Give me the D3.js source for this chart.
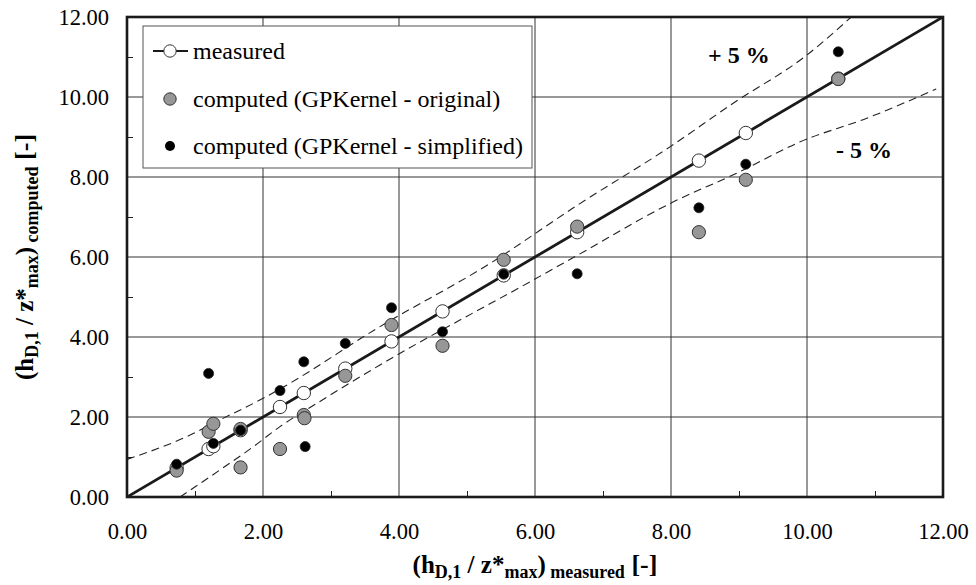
<!DOCTYPE html>
<html><head><meta charset="utf-8">
<script src="https://cdn.jsdelivr.net/npm/d3@7"></script>
<style>body{margin:0;background:#fff}svg{display:block}</style>
</head><body><svg id="c" width="976" height="585"></svg>
<script>
// ---- data ----
const xTicks = [0, 2, 4, 6, 8, 10, 12];
const yTicks = [0, 2, 4, 6, 8, 10, 12];
const minorTicks = [1, 3, 5, 7, 9, 11];
const measuredX = [0.73, 1.20, 1.27, 1.67, 2.25, 2.60, 3.21, 3.89, 4.64, 5.54, 6.62, 8.41, 9.10, 10.46];
const originalX = [0.73, 1.20, 1.27, 1.67, 1.67, 2.25, 2.60, 2.61, 3.21, 3.89, 4.64, 5.54, 6.62, 8.41, 9.10, 10.46];
const originalY = [0.66, 1.63, 1.83, 1.70, 0.74, 1.20, 2.05, 1.97, 3.03, 4.30, 3.78, 5.93, 6.76, 6.62, 7.93, 10.45];
const simplifiedX = [0.73, 1.20, 1.27, 1.67, 2.25, 2.60, 2.62, 3.21, 3.89, 4.64, 5.54, 6.62, 8.41, 9.10, 10.46];
const simplifiedY = [0.82, 3.09, 1.34, 1.67, 2.66, 3.38, 1.26, 3.84, 4.73, 4.13, 5.57, 5.58, 7.23, 8.32, 11.13];
const upperBandX = [0, 0.88, 1.37, 1.96, 2.25, 3.72, 5.34, 6.61, 7.99, 8.92, 10.0, 10.65];
const upperBandY = [0.94, 1.51, 1.93, 2.43, 2.70, 4.26, 5.84, 7.28, 8.76, 9.85, 11.05, 12.0];
const lowerBandX = [0.78, 1.37, 1.86, 2.25, 2.79, 3.72, 5.98, 6.61, 7.99, 9.01, 9.90, 10.88, 11.90];
const lowerBandY = [0.0, 0.68, 1.26, 1.76, 2.34, 3.30, 5.43, 6.03, 7.34, 8.13, 8.88, 9.47, 10.20];
const legendLabels = ["measured", "computed (GPKernel - original)", "computed (GPKernel - simplified)"];

const SERIF = "'Liberation Serif', 'Times New Roman', Tinos, 'DejaVu Serif', serif";

// ---- layout ----
const W = 976, H = 585;
const m = {left: 127, right: 33, top: 17, bottom: 88};
const pw = W - m.left - m.right, ph = H - m.top - m.bottom;
const svg = d3.select("#c");
const g = svg.append("g").attr("transform", `translate(${m.left},${m.top})`);
const x = d3.scaleLinear().domain([0, 12]).range([0, pw]);
const y = d3.scaleLinear().domain([0, 12]).range([ph, 0]);

// grid
g.append("g").selectAll("line").data(xTicks.slice(1, -1)).join("line")
  .attr("x1", d => x(d)).attr("x2", d => x(d)).attr("y1", 0).attr("y2", ph)
  .attr("stroke", "#333").attr("stroke-width", 1);
g.append("g").selectAll("line").data(yTicks.slice(1, -1)).join("line")
  .attr("y1", d => y(d)).attr("y2", d => y(d)).attr("x1", 0).attr("x2", pw)
  .attr("stroke", "#333").attr("stroke-width", 1);

// axes (labels)
const fmt = d3.format(".2f");
const xa = g.append("g").attr("transform", `translate(0,${ph})`)
  .call(d3.axisBottom(x).tickValues(xTicks).tickFormat(fmt).tickSize(0).tickPadding(26));
xa.select(".domain").remove();
xa.attr("font-family", null).attr("font-size", null);
xa.selectAll("text").style("font-size", "22.5px").style("font-family", SERIF).attr("fill", "#000");
const ya = g.append("g")
  .call(d3.axisLeft(y).tickValues(yTicks).tickFormat(fmt).tickSize(0).tickPadding(18));
ya.select(".domain").remove();
ya.attr("font-family", null).attr("font-size", null);
ya.selectAll("text").style("font-size", "22.5px").style("font-family", SERIF).attr("fill", "#000");

// minor ticks (inward)
const mx = g.append("g").attr("transform", `translate(0,${ph})`)
  .call(d3.axisTop(x).tickValues(minorTicks).tickSize(6).tickFormat(""));
mx.select(".domain").remove();
mx.selectAll("line").attr("stroke", "#222");
const my = g.append("g").call(d3.axisRight(y).tickValues(minorTicks).tickSize(6).tickFormat(""));
my.select(".domain").remove();
my.selectAll("line").attr("stroke", "#222");

// clip
svg.append("defs").append("clipPath").attr("id", "clip").append("rect")
  .attr("width", pw).attr("height", ph);
const pg = g.append("g").attr("clip-path", "url(#clip)");

// bands
const band = d3.line().x(d => x(d[0])).y(d => y(d[1])).curve(d3.curveMonotoneX);
pg.append("path").datum(d3.zip(upperBandX, upperBandY)).attr("d", band)
  .attr("fill", "none").attr("stroke", "#222").attr("stroke-width", 1.1).attr("stroke-dasharray", "8,5");
pg.append("path").datum(d3.zip(lowerBandX, lowerBandY)).attr("d", band)
  .attr("fill", "none").attr("stroke", "#222").attr("stroke-width", 1.1).attr("stroke-dasharray", "8,5");

// 1:1 line through measured
const diag = x.domain();
pg.append("path").datum(diag).attr("d", d3.line().x(d => x(d)).y(d => y(d)))
  .attr("stroke", "#1a1a1a").attr("stroke-width", 2.8).attr("fill", "none");

// points
pg.append("g").selectAll("circle").data(measuredX).join("circle")
  .attr("cx", d => x(d)).attr("cy", d => y(d)).attr("r", 6.7)
  .attr("fill", "#fff").attr("stroke", "#333").attr("stroke-width", 1);
pg.append("g").selectAll("circle").data(d3.zip(originalX, originalY)).join("circle")
  .attr("cx", d => x(d[0])).attr("cy", d => y(d[1])).attr("r", 6.6)
  .attr("fill", "#979797").attr("stroke", "#333").attr("stroke-width", 1);
pg.append("g").selectAll("circle").data(d3.zip(simplifiedX, simplifiedY)).join("circle")
  .attr("cx", d => x(d[0])).attr("cy", d => y(d[1])).attr("r", 5)
  .attr("fill", "#000").attr("stroke", "#222").attr("stroke-width", 0.8);

// frame
g.append("rect").attr("width", pw).attr("height", ph)
  .attr("fill", "none").attr("stroke", "#1a1a1a").attr("stroke-width", 2.6);

// legend
const lg = svg.append("g");
lg.append("rect").attr("x", 143).attr("y", 26).attr("width", 389).attr("height", 142)
  .attr("fill", "#fff").attr("stroke", "#555").attr("stroke-width", 1);
const ly = [51, 99, 146];
lg.append("line").attr("x1", 153).attr("x2", 188).attr("y1", ly[0]).attr("y2", ly[0])
  .attr("stroke", "#1a1a1a").attr("stroke-width", 2);
lg.append("circle").attr("cx", 170).attr("cy", ly[0]).attr("r", 6.2).attr("fill", "#fff").attr("stroke", "#333");
lg.append("circle").attr("cx", 170).attr("cy", ly[1]).attr("r", 6.2).attr("fill", "#979797").attr("stroke", "#333");
lg.append("circle").attr("cx", 170).attr("cy", ly[2]).attr("r", 5).attr("fill", "#000");
lg.selectAll("text").data(legendLabels).join("text")
  .attr("x", 193).attr("y", (d, i) => ly[i]).attr("dy", "0.33em")
  .style("font-family", SERIF).style("font-size", "24px").text(d => d);

// band annotations
svg.append("text").attr("x", 708).attr("y", 63).style("font-family", SERIF).style("font-size", "24px")
  .attr("font-weight", "bold").text("+ 5 %");
svg.append("text").attr("x", 836).attr("y", 158).style("font-family", SERIF).style("font-size", "24px")
  .attr("font-weight", "bold").text("- 5 %");

// axis titles
function title(sel, parts) {
  parts.forEach(p => {
    sel.append("tspan").text(p.t).style("font-size", p.size + "px").attr("dy", p.dy || 0);
  });
}
function titleParts(word) {
  return [
    {t: "(h", size: 25}, {t: "D,1", size: 18, dy: 5}, {t: " / z*", size: 25, dy: -5},
    {t: "max", size: 18, dy: 5}, {t: ")", size: 25, dy: -5},
    {t: " " + word, size: 18, dy: 5}, {t: " [-]", size: 26, dy: -5}
  ];
}
const xt = svg.append("text").attr("x", m.left + pw / 2).attr("y", 573)
  .attr("text-anchor", "middle").attr("font-weight", "bold").style("font-family", SERIF);
title(xt, titleParts("measured"));

const yt = svg.append("text").attr("transform", `translate(33,${m.top + ph / 2}) rotate(-90)`)
  .attr("text-anchor", "middle").attr("font-weight", "bold").style("font-family", SERIF);
title(yt, titleParts("computed"));
</script></body></html>
